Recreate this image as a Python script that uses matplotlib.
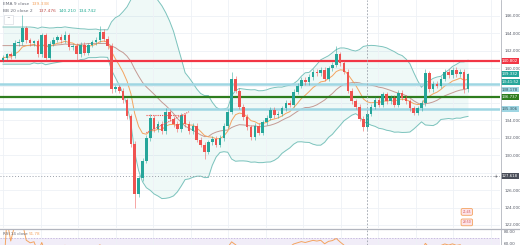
import numpy as np
import pandas as pd
import matplotlib
matplotlib.use('Agg')
import matplotlib.pyplot as plt
from matplotlib.ticker import MultipleLocator

# ---------------- data ----------------
first_open = 141.0
closes = [141.2, 141.6, 141.4, 142.9, 143.0, 144.6, 143.2, 142.9, 143.1, 141.6,
          143.8, 141.2, 142.8, 143.3, 143.6, 143.2, 143.8, 142.4, 142.6, 141.6,
          142.7, 141.8, 142.7, 143.0, 143.3, 144.2, 143.4, 142.5, 137.6, 137.8,
          137.4, 136.3, 134.5, 131.3, 125.6, 127.4, 129.4, 132.0, 134.3, 133.0,
          133.6, 132.8, 135.0, 134.2, 133.6, 133.0, 134.6, 133.6, 132.8, 133.4,
          131.8, 131.2, 130.4, 131.5, 131.9, 131.2, 132.0, 133.4, 135.0, 138.8,
          137.4, 135.6, 134.4, 133.2, 132.1, 133.4, 132.6, 133.8, 134.3, 135.2,
          134.6, 134.8, 135.4, 136.0, 135.8, 137.3, 138.0, 138.7, 138.4, 139.0,
          139.6, 139.4, 139.8, 138.8, 140.0, 140.4, 141.6, 140.6, 139.6, 137.4,
          136.2, 135.6, 134.2, 133.2, 134.8, 135.6, 136.4, 135.8, 137.0, 136.2,
          136.6, 135.8, 137.2, 136.6, 136.2, 135.4, 134.9, 135.4, 136.0, 139.4,
          137.6, 138.2, 138.0, 138.8, 139.6, 139.2, 139.8, 139.3, 139.6, 137.6,
          139.3]
wick_up = [0.3, 0.2, 0.3, 0.3, 0.4, 1.5, 0.3, 0.3, 0.2, 0.3,
           0.3, 0.2, 0.3, 0.3, 0.2, 0.3, 0.5, 0.3, 0.2, 0.3,
           0.3, 0.3, 0.2, 0.3, 0.3, 0.7, 0.3, 0.3, 0.4, 0.3,
           0.3, 0.3, 0.3, 0.3, 0.4, 0.3, 0.3, 0.3, 0.4, 0.3,
           0.3, 0.3, 0.4, 0.3, 0.3, 0.3, 0.3, 0.3, 0.3, 0.3,
           0.3, 0.3, 0.3, 0.3, 0.3, 0.3, 0.3, 0.3, 0.3, 0.8,
           0.3, 0.3, 0.3, 0.3, 0.3, 0.3, 0.3, 0.3, 0.3, 0.3,
           0.3, 0.3, 0.3, 0.3, 0.3, 0.3, 0.3, 0.3, 0.3, 0.3,
           0.3, 0.3, 0.3, 0.3, 0.3, 0.3, 1.0, 0.3, 0.3, 0.3,
           0.3, 0.3, 0.3, 0.3, 0.3, 0.3, 0.3, 0.3, 0.3, 0.3,
           0.3, 0.3, 0.3, 0.3, 0.3, 0.3, 0.3, 0.3, 0.3, 0.5,
           0.3, 0.3, 0.3, 0.3, 0.3, 0.3, 0.3, 0.3, 0.3, 0.3,
           0.2]
wick_dn = [0.3, 0.3, 0.3, 0.2, 0.3, 0.3, 0.3, 0.3, 0.3, 0.3,
           0.3, 0.3, 0.3, 0.2, 0.3, 0.3, 0.3, 0.3, 0.3, 0.7,
           0.3, 0.3, 0.3, 0.3, 0.3, 0.3, 0.3, 0.3, 0.4, 0.3,
           0.3, 0.3, 0.3, 0.4, 1.6, 0.4, 0.3, 0.3, 0.3, 0.3,
           0.3, 0.3, 0.3, 0.3, 0.3, 0.3, 0.3, 0.3, 0.3, 0.3,
           0.3, 0.3, 0.8, 0.3, 0.3, 0.3, 0.3, 0.3, 0.3, 0.3,
           0.3, 0.3, 0.3, 0.3, 0.3, 0.3, 0.3, 0.3, 0.3, 0.3,
           0.3, 0.3, 0.3, 0.3, 0.3, 0.3, 0.3, 0.3, 0.3, 0.3,
           0.3, 0.3, 0.3, 0.3, 0.3, 0.3, 0.3, 0.3, 0.3, 0.3,
           0.3, 0.3, 0.3, 0.4, 0.3, 0.3, 0.3, 0.3, 0.3, 0.3,
           0.3, 0.3, 0.3, 0.3, 0.3, 0.3, 0.3, 0.3, 0.3, 0.3,
           0.3, 0.3, 0.3, 0.3, 0.3, 0.3, 0.3, 0.3, 0.3, 0.4,
           0.3]

level_red = 140.802
level_blue_hi = 138.178
level_green = 136.737
level_blue_lo = 135.306
level_dotted = 127.618
last_price = 139.332
countdown = "13:41:52"
price_ticks = [122, 124, 126, 130, 132, 134, 140, 142, 144, 146]
legend_ema = ("EMA 9 close", "139.338")
legend_bb = ("BB 20 close 2", "137.476", "140.210", "134.742")
legend_rsi = ("RSI 14 close", "51.78")
rsi_ticks = [80, 60]
trend_h = ([37, 47], [134.6, 134.6])
trend_d = ([37, 48], [132.6, 135.0])
crosshair_idx = 93.9
flag_labels = ["21:45", "23:50"]

# ---------------- derived ----------------
c = np.array(closes)
o = np.concatenate([[first_open], c[:-1]])
h = np.maximum(o, c) + np.array(wick_up)
l = np.minimum(o, c) - np.array(wick_dn)
idx = np.arange(len(c))
s = pd.Series(c)
ema = s.ewm(span=9, adjust=False).mean()
basis = s.rolling(20, min_periods=8).mean().bfill()
sd = s.rolling(20, min_periods=8).std(ddof=0).bfill()
upper = basis + 2 * sd
lower = basis - 2 * sd
delta = s.diff().fillna(0)
gain = delta.clip(lower=0).ewm(alpha=1/14, adjust=False).mean()
loss = (-delta.clip(upper=0)).ewm(alpha=1/14, adjust=False).mean()
rsi = 100 - 100 / (1 + gain / loss.replace(0, 1e-9))

# ---------------- figure ----------------
W, H = 520, 245
fig = plt.figure(figsize=(W / 100, H / 100), dpi=100)
fig.patch.set_facecolor('white')
px_per = 3.875
x0 = -3 / px_per
x1 = (500 - 3) / px_per
ax = fig.add_axes([0, 1 - 228 / H, 500 / W, 228 / H])
ax2 = fig.add_axes([0, 0, 500 / W, 16 / H])
for a in (ax, ax2):
    a.set_xlim(x0, x1)
    a.set_facecolor('white')
    for sp in a.spines.values():
        sp.set_visible(False)
    a.tick_params(axis='x', bottom=False, labelbottom=False)
    a.xaxis.set_major_locator(MultipleLocator(9.68))
    a.grid(True, axis='x', color='#eef1f6', lw=0.6)

ax.set_ylim(121.654, 147.837)
ax.yaxis.tick_right()
ax.set_yticks(price_ticks)
ax.set_yticklabels([f"{t:.3f}" for t in price_ticks])
ax.tick_params(axis='y', length=0, pad=3, labelsize=3.0, labelcolor='#555a66')
for t in np.arange(122, 148, 2):
    ax.axhline(t, color='#eef1f6', lw=0.6, zorder=0)

# Bollinger band
ax.fill_between(idx, lower, upper, color='#22ab94', alpha=0.07, lw=0, zorder=1)
ax.plot(idx, upper, color='#7cc3bd', lw=0.7, zorder=2)
ax.plot(idx, lower, color='#7cc3bd', lw=0.7, zorder=2)
ax.plot(idx, basis, color='#c49a94', lw=0.7, zorder=2)
ax.plot(idx, ema, color='#f4a460', lw=0.7, zorder=2)

# horizontal levels
ax.axhline(level_red, color='#f23645', lw=1.6, zorder=3)
ax.axhline(level_blue_hi, color='#9fd6e3', lw=1.8, zorder=3)
ax.axhline(level_green, color='#2e7d1e', lw=1.6, zorder=3)
ax.axhline(level_blue_lo, color='#9fd6e3', lw=1.8, zorder=3)
ax.axhline(level_dotted, color='#9aa0aa', lw=0.7, ls=(0, (1, 2)), zorder=3)

# candles
up = c >= o
col = np.where(up, '#26a69a', '#ef5350')
ax.vlines(idx, l, h, colors=col, lw=0.6, alpha=0.6, zorder=4)
body_bot = np.minimum(o, c)
body_h = np.maximum(np.abs(c - o), 0.15)
ax.bar(idx, body_h, bottom=body_bot, width=0.66, color=col, lw=0, zorder=5)

# drawings
ax.plot(*trend_h, color='#ef5350', lw=0.8, ls=(0, (1, 1)), zorder=6)
ax.plot(*trend_d, color='#ef5350', lw=0.8, ls=(0, (1, 1)), zorder=6)
for a in (ax, ax2):
    a.axvline(crosshair_idx, color='#9aa0aa', lw=0.6, ls=(0, (2, 2)), zorder=6)

# right-axis price boxes (stacked like the platform does when they collide)
def price_box(a, y, text, fc, tc='white'):
    a.text(1.004, y, text, transform=a.get_yaxis_transform(), fontsize=2.8,
           color=tc, va='center', ha='left', clip_on=False, zorder=10,
           bbox=dict(boxstyle='square,pad=0.25', fc=fc, ec='none'))

price_box(ax, level_red, f"{level_red:.3f}", '#f23645')
price_box(ax, last_price, f"{last_price:.3f}", '#26a69a')
price_box(ax, last_price - 0.92, countdown, '#26a69a')
price_box(ax, level_blue_hi - 0.62, f"{level_blue_hi:.3f}", '#9fd6e3', '#31505a')
price_box(ax, level_green, f"{level_green:.3f}", '#2e7d1e')
price_box(ax, level_blue_lo, f"{level_blue_lo:.3f}", '#9fd6e3', '#31505a')
price_box(ax, level_dotted, f"{level_dotted:.3f}", '#4a4e59')
ax.text(0.996, level_dotted, "+", transform=ax.get_yaxis_transform(), fontsize=3.5,
        color='#4a4e59', va='center', ha='right', clip_on=False, zorder=10)

# event flags
for yy, lab in ((123.5, flag_labels[0]), (122.3, flag_labels[1])):
    ax.text(119.7, yy, lab, fontsize=2.2, color='#d05050', ha='center', va='center', zorder=8,
            bbox=dict(boxstyle='round,pad=0.45', fc='#fde3e8', ec='#f4a460', lw=0.6))

# RSI pane
ax2.set_ylim(58.3, 85.0)
ax2.axhspan(30, 70, color='#7e57c2', alpha=0.10, lw=0)
ax2.axhline(70, color='#b8a9d6', lw=0.5, ls=(0, (2, 2)))
ax2.plot(idx, rsi, color='#f4a460', lw=0.7)
ax2.yaxis.tick_right()
ax2.set_yticks(rsi_ticks)
ax2.set_yticklabels([f"{t:.2f}" for t in rsi_ticks])
ax2.tick_params(axis='y', length=0, pad=3, labelsize=3.0, labelcolor='#555a66')

# separators / axis borders
fig.add_artist(plt.Line2D([0, 1], [1 - 228.5 / H] * 2, color='#b2b5be', lw=0.9))
fig.add_artist(plt.Line2D([500.5 / W] * 2, [0, 1], color='#b2b5be', lw=0.6))

# legends (top-left)
def fx(px):
    return px / W

def fy(py):
    return 1 - py / H

fig.text(fx(3), fy(4), legend_ema[0], fontsize=3.2, color='#6a6d78', va='center')
fig.text(fx(32), fy(4), legend_ema[1], fontsize=3.2, color='#f4a460', va='center')
fig.text(fx(3), fy(11), legend_bb[0], fontsize=3.2, color='#6a6d78', va='center')
fig.text(fx(39), fy(11), legend_bb[1], fontsize=3.2, color='#c0504d', va='center')
fig.text(fx(59), fy(11), legend_bb[2], fontsize=3.2, color='#22ab94', va='center')
fig.text(fx(79), fy(11), legend_bb[3], fontsize=3.2, color='#22ab94', va='center')
fig.text(fx(8.5), fy(19.5), "^", fontsize=3.2, color='#6a6d78', va='center', ha='center',
         bbox=dict(boxstyle='square,pad=0.5', fc='white', ec='#d1d4dc', lw=0.4))
fig.text(fx(3), fy(234), legend_rsi[0], fontsize=3.0, color='#6a6d78', va='center')
fig.text(fx(29), fy(234), legend_rsi[1], fontsize=3.0, color='#f4a460', va='center')

fig.savefig('out.png', dpi=100, facecolor='white')
